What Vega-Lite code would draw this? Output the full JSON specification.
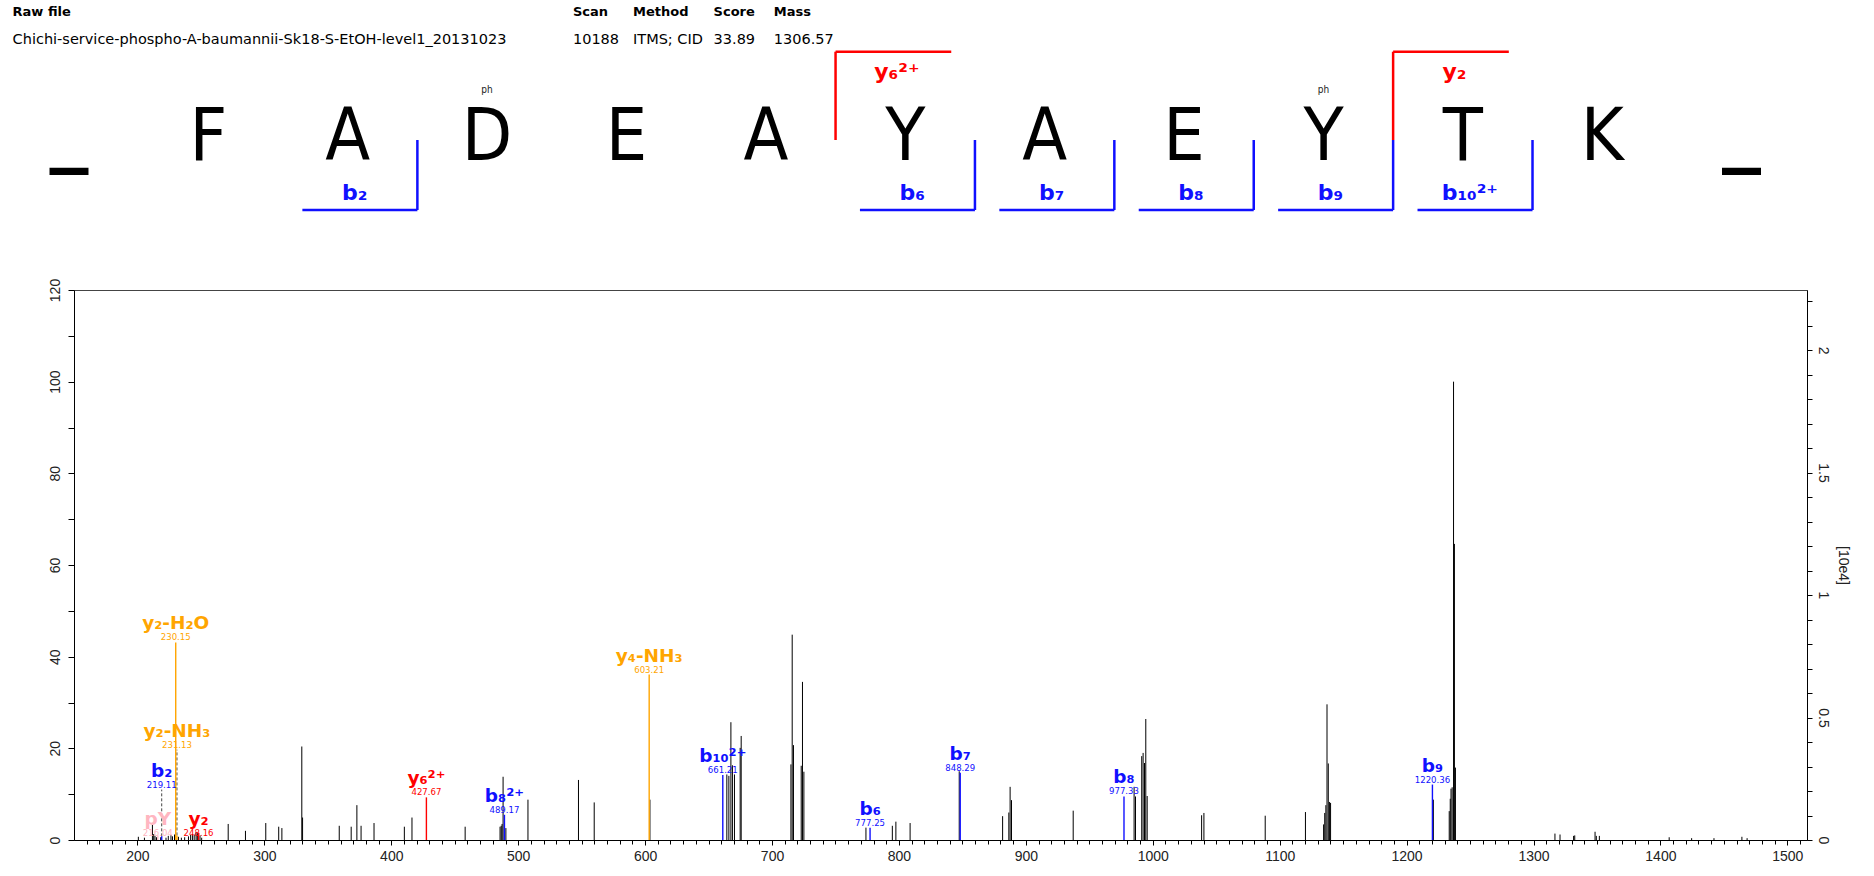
{
  "$schema": "https://vega.github.io/schema/vega-lite/v6.json",
  "width": 1733,
  "height": 550,
  "autosize": {"type": "none"},
  "padding": {"left": 74, "top": 290, "right": 67, "bottom": 36},
  "background": "white",
  "config": {"view": {"stroke": "#444", "strokeWidth": 1}, "font": "Liberation Sans", "axis": {"labelOverlap": false}},
  "datasets": {
    "peaks": [
      {"mz": 200.7, "rel": 0.7}, {"mz": 205.5, "rel": 0.5}, {"mz": 211.8, "rel": 3.3}, {"mz": 212.8, "rel": 1.3},
      {"mz": 213.8, "rel": 0.9}, {"mz": 215.0, "rel": 0.6}, {"mz": 218.3, "rel": 0.6}, {"mz": 222.5, "rel": 0.5},
      {"mz": 224.3, "rel": 0.9}, {"mz": 226.4, "rel": 1.1}, {"mz": 227.6, "rel": 0.8}, {"mz": 229.2, "rel": 1.2},
      {"mz": 232.3, "rel": 0.7}, {"mz": 234.6, "rel": 0.5}, {"mz": 237.2, "rel": 0.6}, {"mz": 240.2, "rel": 0.8},
      {"mz": 241.9, "rel": 1.1}, {"mz": 243.3, "rel": 1.3}, {"mz": 244.7, "rel": 1.2}, {"mz": 246.2, "rel": 1.7},
      {"mz": 247.2, "rel": 1.5}, {"mz": 249.3, "rel": 1.0}, {"mz": 250.6, "rel": 0.5},
      {"mz": 271.5, "rel": 3.5}, {"mz": 285.1, "rel": 2.0}, {"mz": 301.1, "rel": 3.7}, {"mz": 311.3, "rel": 2.9},
      {"mz": 313.8, "rel": 2.6}, {"mz": 329.5, "rel": 20.4}, {"mz": 330.1, "rel": 4.9}, {"mz": 359.0, "rel": 3.1},
      {"mz": 368.4, "rel": 2.9}, {"mz": 372.9, "rel": 7.6}, {"mz": 376.2, "rel": 3.1}, {"mz": 386.4, "rel": 3.7},
      {"mz": 410.3, "rel": 2.9}, {"mz": 416.3, "rel": 4.9}, {"mz": 458.2, "rel": 2.9}, {"mz": 485.7, "rel": 2.9},
      {"mz": 486.6, "rel": 3.1}, {"mz": 487.3, "rel": 3.5}, {"mz": 488.1, "rel": 13.8}, {"mz": 490.3, "rel": 2.6},
      {"mz": 507.7, "rel": 8.8}, {"mz": 547.5, "rel": 13.1}, {"mz": 559.9, "rel": 8.2}, {"mz": 603.8, "rel": 8.8},
      {"mz": 664.4, "rel": 14.3}, {"mz": 666.0, "rel": 14.0}, {"mz": 667.6, "rel": 25.7}, {"mz": 668.8, "rel": 16.3},
      {"mz": 670.4, "rel": 14.3}, {"mz": 674.9, "rel": 20.1}, {"mz": 675.7, "rel": 22.7},
      {"mz": 714.9, "rel": 16.5}, {"mz": 715.9, "rel": 44.8}, {"mz": 716.9, "rel": 20.7},
      {"mz": 723.0, "rel": 16.2}, {"mz": 724.0, "rel": 34.5}, {"mz": 725.1, "rel": 14.9},
      {"mz": 774.0, "rel": 2.7}, {"mz": 794.8, "rel": 3.1}, {"mz": 797.6, "rel": 4.0}, {"mz": 808.8, "rel": 3.7},
      {"mz": 847.5, "rel": 15.0}, {"mz": 881.7, "rel": 5.2}, {"mz": 886.6, "rel": 6.0}, {"mz": 887.6, "rel": 11.6},
      {"mz": 888.7, "rel": 8.7}, {"mz": 937.3, "rel": 6.4}, {"mz": 985.3, "rel": 11.6}, {"mz": 986.4, "rel": 9.5},
      {"mz": 991.3, "rel": 18.3}, {"mz": 992.4, "rel": 19.0}, {"mz": 993.5, "rel": 16.8}, {"mz": 994.5, "rel": 26.4},
      {"mz": 995.6, "rel": 9.6}, {"mz": 1038.5, "rel": 5.4}, {"mz": 1040.3, "rel": 5.9}, {"mz": 1088.6, "rel": 5.3},
      {"mz": 1120.3, "rel": 6.1}, {"mz": 1134.6, "rel": 3.4}, {"mz": 1135.5, "rel": 5.9}, {"mz": 1136.4, "rel": 7.6},
      {"mz": 1137.3, "rel": 29.6}, {"mz": 1138.3, "rel": 16.7}, {"mz": 1139.2, "rel": 8.3}, {"mz": 1140.1, "rel": 8.1},
      {"mz": 1221.1, "rel": 8.8}, {"mz": 1233.6, "rel": 6.3}, {"mz": 1234.4, "rel": 9.0}, {"mz": 1235.0, "rel": 11.2},
      {"mz": 1235.9, "rel": 11.5}, {"mz": 1237.0, "rel": 100}, {"mz": 1237.7, "rel": 64.6}, {"mz": 1238.5, "rel": 15.8},
      {"mz": 1316.9, "rel": 1.4}, {"mz": 1320.9, "rel": 1.2}, {"mz": 1331.6, "rel": 0.9}, {"mz": 1332.5, "rel": 1.0},
      {"mz": 1348.5, "rel": 1.8}, {"mz": 1349.5, "rel": 0.9}, {"mz": 1351.9, "rel": 0.9}, {"mz": 1406.9, "rel": 0.6},
      {"mz": 1424.6, "rel": 0.4}, {"mz": 1442.2, "rel": 0.4}, {"mz": 1464.2, "rel": 0.7}, {"mz": 1468.3, "rel": 0.4}
    ],
    "annotations": [
      {"ion": "pY", "label": "216.04", "mz": 216.04, "rel": 1.0, "lab": 0.4, "series": "imm"},
      {"ion": "b₂", "label": "219.11", "mz": 219.11, "rel": 0.8, "lab": 11.0, "series": "b"},
      {"ion": "y₂-H₂O", "label": "230.15", "mz": 230.15, "rel": 43.1, "lab": 43.1, "series": "loss"},
      {"ion": "y₂-NH₃", "label": "231.13", "mz": 231.13, "rel": 1.0, "lab": 19.7, "series": "loss"},
      {"ion": "y₂", "label": "248.16", "mz": 248.16, "rel": 1.6, "lab": 0.4, "series": "y"},
      {"ion": "y₆²⁺", "label": "427.67", "mz": 427.67, "rel": 9.3, "lab": 9.3, "series": "y"},
      {"ion": "b₈²⁺", "label": "489.17", "mz": 489.17, "rel": 5.5, "lab": 5.5, "series": "b"},
      {"ion": "y₄-NH₃", "label": "603.21", "mz": 603.21, "rel": 36.1, "lab": 36.1, "series": "loss"},
      {"ion": "b₁₀²⁺", "label": "661.21", "mz": 661.21, "rel": 14.2, "lab": 14.2, "series": "b"},
      {"ion": "b₆", "label": "777.25", "mz": 777.25, "rel": 2.7, "lab": 2.7, "series": "b"},
      {"ion": "b₇", "label": "848.29", "mz": 848.29, "rel": 14.7, "lab": 14.7, "series": "b"},
      {"ion": "b₈", "label": "977.33", "mz": 977.33, "rel": 9.5, "lab": 9.5, "series": "b"},
      {"ion": "b₉", "label": "1220.36", "mz": 1220.36, "rel": 12.1, "lab": 12.1, "series": "b"}
    ],
    "residues": [
      {"pos": 0, "aa": "_", "mod": ""}, {"pos": 1, "aa": "F", "mod": ""}, {"pos": 2, "aa": "A", "mod": ""},
      {"pos": 3, "aa": "D", "mod": "ph"}, {"pos": 4, "aa": "E", "mod": ""}, {"pos": 5, "aa": "A", "mod": ""},
      {"pos": 6, "aa": "Y", "mod": ""}, {"pos": 7, "aa": "A", "mod": ""}, {"pos": 8, "aa": "E", "mod": ""},
      {"pos": 9, "aa": "Y", "mod": "ph"}, {"pos": 10, "aa": "T", "mod": ""}, {"pos": 11, "aa": "K", "mod": ""},
      {"pos": 12, "aa": "_", "mod": ""}
    ],
    "fragments": [
      {"ion": "b₂", "series": "b", "n": 2}, {"ion": "b₆", "series": "b", "n": 6}, {"ion": "b₇", "series": "b", "n": 7},
      {"ion": "b₈", "series": "b", "n": 8}, {"ion": "b₉", "series": "b", "n": 9}, {"ion": "b₁₀²⁺", "series": "b", "n": 10},
      {"ion": "y₆²⁺", "series": "y", "n": 6}, {"ion": "y₂", "series": "y", "n": 2}
    ],
    "meta": [
      {"key": "Raw file", "value": "Chichi-service-phospho-A-baumannii-Sk18-S-EtOH-level1_20131023"},
      {"key": "Scan", "value": "10188"},
      {"key": "Method", "value": "ITMS; CID"},
      {"key": "Score", "value": "33.89"},
      {"key": "Mass", "value": "1306.57"}
    ]
  },
  "resolve": {"scale": {"x": "independent", "y": "independent", "color": "independent"}},
  "layer": [
    {
      "layer": [
        {
          "data": {"name": "peaks"},
          "mark": {"type": "rule", "color": "#000000", "strokeWidth": 1},
          "encoding": {
            "x": {"field": "mz", "type": "quantitative",
              "scale": {"domain": [150, 1515.5], "nice": false, "zero": false},
              "axis": {"orient": "bottom", "title": null, "grid": false,
                "values": [200,300,400,500,600,700,800,900,1000,1100,1200,1300,1400,1500],
                "format": "d", "labelOverlap": false, "labelFlush": false, "labelBound": false,
                "tickSize": 5, "tickColor": "#000", "domainColor": "#000",
                "labelFont": "Liberation Sans", "labelFontSize": 14, "labelColor": "#222", "labelPadding": 4}},
            "y": {"field": "rel", "type": "quantitative",
              "scale": {"domain": [0, 120], "nice": false, "zero": true},
              "axis": {"orient": "left", "title": null, "grid": false,
                "values": [0,5,10,15,20,25,30,35,40,45,50,55,60,65,70,75,80,85,90,95,100,105,110,115,120],
                "format": "d", "labelExpr": "datum.value % 20 === 0 ? datum.label : ''",
                "labelAngle": 270, "labelAlign": "center", "labelBaseline": "bottom",
                "labelOverlap": false, "labelFlush": false, "labelBound": false,
                "tickSize": 6, "tickColor": "#000", "domainColor": "#000",
                "labelFont": "Liberation Sans", "labelFontSize": 14, "labelColor": "#222", "labelPadding": 6}},
            "y2": {"datum": 0}
          }
        },
        {
          "data": {"name": "annotations"},
          "transform": [{"filter": "datum.lab > datum.rel + 0.5"}],
          "mark": {"type": "rule", "color": "#444", "strokeDash": [3, 2], "strokeWidth": 1},
          "encoding": {
            "x": {"field": "mz", "type": "quantitative"},
            "y": {"field": "rel", "type": "quantitative"},
            "y2": {"field": "lab"}
          }
        },
        {
          "data": {"name": "annotations"},
          "mark": {"type": "rule", "strokeWidth": 1.4},
          "encoding": {
            "x": {"field": "mz", "type": "quantitative"},
            "y": {"field": "rel", "type": "quantitative"},
            "y2": {"datum": 0},
            "color": {"field": "series", "type": "nominal",
              "scale": {"domain": ["b", "y", "loss", "imm"], "range": ["#1010ff", "#ff0000", "#ffa500", "#ffb6c1"]},
              "legend": null}
          }
        },
        {
          "data": {"name": "annotations"},
          "mark": {"type": "text", "font": "DejaVu Sans", "fontWeight": "bold", "fontSize": 18.5, "baseline": "middle", "align": "center", "dy": -19},
          "encoding": {
            "x": {"field": "mz", "type": "quantitative"},
            "y": {"field": "lab", "type": "quantitative"},
            "text": {"field": "ion"},
            "color": {"field": "series", "type": "nominal"}
          }
        },
        {
          "data": {"name": "annotations"},
          "mark": {"type": "text", "font": "DejaVu Sans Condensed", "fontSize": 9.5, "baseline": "middle", "align": "center", "dy": -5},
          "encoding": {
            "x": {"field": "mz", "type": "quantitative"},
            "y": {"field": "lab", "type": "quantitative"},
            "text": {"field": "label"},
            "color": {"field": "series", "type": "nominal"}
          }
        }
      ]
    },
    {
      "data": {"values": [{"k": 1}]},
      "mark": {"type": "point", "opacity": 0},
      "encoding": {
        "x": {"datum": 150, "type": "quantitative", "scale": {"domain": [150, 1515.5], "nice": false, "zero": false},
          "axis": {"orient": "bottom", "title": null, "grid": false, "labels": false, "domain": false,
            "values": [160,170,180,190,210,220,230,240,250,260,270,280,290,310,320,330,340,350,360,370,380,390,410,420,430,440,450,460,470,480,490,510,520,530,540,550,560,570,580,590,610,620,630,640,650,660,670,680,690,710,720,730,740,750,760,770,780,790,810,820,830,840,850,860,870,880,890,910,920,930,940,950,960,970,980,990,1010,1020,1030,1040,1050,1060,1070,1080,1090,1110,1120,1130,1140,1150,1160,1170,1180,1190,1210,1220,1230,1240,1250,1260,1270,1280,1290,1310,1320,1330,1340,1350,1360,1370,1380,1390,1410,1420,1430,1440,1450,1460,1470,1480,1490,1510],
            "tickSize": 4, "tickColor": "#000"}},
        "y": {"datum": 0, "type": "quantitative",
          "scale": {"domain": [0, 2.245], "nice": false, "zero": true},
          "axis": {"orient": "right", "title": "[10e4]", "grid": false,
            "values": [0,0.1,0.2,0.3,0.4,0.5,0.6,0.7,0.8,0.9,1,1.1,1.2,1.3,1.4,1.5,1.6,1.7,1.8,1.9,2,2.1,2.2],
            "format": "~g", "labelExpr": "abs(datum.value * 2 - round(datum.value * 2)) < 0.001 ? datum.label : ''",
            "labelAngle": 90, "labelAlign": "center", "labelBaseline": "bottom",
            "labelOverlap": false, "labelFlush": false, "labelBound": false,
            "tickSize": 5, "tickColor": "#000", "domainColor": "#000",
            "labelFont": "Liberation Sans", "labelFontSize": 14, "labelColor": "#222", "labelPadding": 3,
            "titleFont": "Liberation Sans", "titleFontSize": 14, "titleFontWeight": "normal", "titleColor": "#222",
            "titleAngle": 90, "titlePadding": 6}}
      }
    },
    {
      "layer": [
        {
          "data": {"name": "residues"},
          "transform": [{"filter": "datum.aa !== '_'"}],
          "mark": {"type": "text", "font": "DejaVu Sans Condensed", "fontSize": 73, "baseline": "alphabetic", "align": "center", "color": "#000"},
          "encoding": {
            "x": {"field": "pos", "type": "quantitative", "scale": {"domain": [0, 12], "range": [-5.1, 1667.6], "nice": false, "zero": false}, "axis": null},
            "y": {"datum": 55.17, "type": "quantitative", "scale": {"domain": [0, 100], "range": [-290, 0], "nice": false, "zero": false}, "axis": null},
            "text": {"field": "aa"}
          }
        },
        {
          "data": {"name": "residues"},
          "transform": [{"filter": "datum.aa === '_'"}],
          "mark": {"type": "text", "font": "DejaVu Sans", "fontWeight": "bold", "fontSize": 78, "baseline": "alphabetic", "align": "center", "color": "#000", "dy": -4},
          "encoding": {
            "x": {"field": "pos", "type": "quantitative"},
            "y": {"datum": 55.17, "type": "quantitative"},
            "text": {"field": "aa"}
          }
        },
        {
          "data": {"name": "residues"},
          "transform": [{"filter": "datum.mod === 'ph'"}],
          "mark": {"type": "text", "font": "DejaVu Sans Condensed", "fontSize": 10, "baseline": "middle", "align": "center", "color": "#222"},
          "encoding": {
            "x": {"field": "pos", "type": "quantitative"},
            "y": {"datum": 31.0, "type": "quantitative"},
            "text": {"field": "mod"}
          }
        },
        {
          "data": {"name": "fragments"},
          "transform": [
            {"filter": "datum.series === 'b'"},
            {"calculate": "datum.n + 0.5", "as": "site"},
            {"calculate": "datum.site - 0.825", "as": "end"},
            {"calculate": "datum.site - 0.45", "as": "lx"}
          ],
          "layer": [
            {"mark": {"type": "rule", "color": "#1010ff", "strokeWidth": 2.5},
             "encoding": {"x": {"field": "site", "type": "quantitative"}, "y": {"datum": 48.28, "type": "quantitative"}, "y2": {"datum": 72.41}}},
            {"mark": {"type": "rule", "color": "#1010ff", "strokeWidth": 2.5},
             "encoding": {"x": {"field": "end", "type": "quantitative"}, "x2": {"field": "site"}, "y": {"datum": 72.41, "type": "quantitative"}}},
            {"mark": {"type": "text", "font": "DejaVu Sans", "fontWeight": "bold", "fontSize": 22, "baseline": "middle", "align": "center", "color": "#1010ff"},
             "encoding": {"x": {"field": "lx", "type": "quantitative"}, "y": {"datum": 66.55, "type": "quantitative"}, "text": {"field": "ion"}}}
          ]
        },
        {
          "data": {"name": "fragments"},
          "transform": [
            {"filter": "datum.series === 'y'"},
            {"calculate": "11.5 - datum.n", "as": "site"},
            {"calculate": "datum.site + 0.83", "as": "end"},
            {"calculate": "datum.site + 0.44", "as": "lx"}
          ],
          "layer": [
            {"mark": {"type": "rule", "color": "#ff0000", "strokeWidth": 2.5},
             "encoding": {"x": {"field": "site", "type": "quantitative"}, "y": {"datum": 17.83, "type": "quantitative"}, "y2": {"datum": 48.28}}},
            {"mark": {"type": "rule", "color": "#ff0000", "strokeWidth": 2.5},
             "encoding": {"x": {"field": "site", "type": "quantitative"}, "x2": {"field": "end"}, "y": {"datum": 17.83, "type": "quantitative"}}},
            {"mark": {"type": "text", "font": "DejaVu Sans", "fontWeight": "bold", "fontSize": 22, "baseline": "middle", "align": "center", "color": "#ff0000"},
             "encoding": {"x": {"field": "lx", "type": "quantitative"}, "y": {"datum": 24.83, "type": "quantitative"}, "text": {"field": "ion"}}}
          ]
        },
        {
          "data": {"name": "meta"},
          "transform": [{"filter": "datum.key === 'Raw file'"}],
          "encoding": {"x": {"datum": -0.404, "type": "quantitative"}},
          "layer": [
            {"mark": {"type": "text", "font": "DejaVu Sans", "fontWeight": "bold", "fontSize": 13, "align": "left", "baseline": "middle", "color": "#000"},
             "encoding": {"y": {"datum": 4.3, "type": "quantitative"}, "text": {"field": "key"}}},
            {"mark": {"type": "text", "font": "DejaVu Sans", "fontSize": 14.5, "align": "left", "baseline": "middle", "color": "#000"},
             "encoding": {"y": {"datum": 13.79, "type": "quantitative"}, "text": {"field": "value"}}}
          ]
        },
        {
          "data": {"name": "meta"},
          "transform": [{"filter": "datum.key === 'Scan'"}],
          "encoding": {"x": {"datum": 3.616, "type": "quantitative"}},
          "layer": [
            {"mark": {"type": "text", "font": "DejaVu Sans", "fontWeight": "bold", "fontSize": 13, "align": "left", "baseline": "middle", "color": "#000"},
             "encoding": {"y": {"datum": 4.3, "type": "quantitative"}, "text": {"field": "key"}}},
            {"mark": {"type": "text", "font": "DejaVu Sans", "fontSize": 14.5, "align": "left", "baseline": "middle", "color": "#000"},
             "encoding": {"y": {"datum": 13.79, "type": "quantitative"}, "text": {"field": "value"}}}
          ]
        },
        {
          "data": {"name": "meta"},
          "transform": [{"filter": "datum.key === 'Method'"}],
          "encoding": {"x": {"datum": 4.047, "type": "quantitative"}},
          "layer": [
            {"mark": {"type": "text", "font": "DejaVu Sans", "fontWeight": "bold", "fontSize": 13, "align": "left", "baseline": "middle", "color": "#000"},
             "encoding": {"y": {"datum": 4.3, "type": "quantitative"}, "text": {"field": "key"}}},
            {"mark": {"type": "text", "font": "DejaVu Sans", "fontSize": 14.5, "align": "left", "baseline": "middle", "color": "#000"},
             "encoding": {"y": {"datum": 13.79, "type": "quantitative"}, "text": {"field": "value"}}}
          ]
        },
        {
          "data": {"name": "meta"},
          "transform": [{"filter": "datum.key === 'Score'"}],
          "encoding": {"x": {"datum": 4.625, "type": "quantitative"}},
          "layer": [
            {"mark": {"type": "text", "font": "DejaVu Sans", "fontWeight": "bold", "fontSize": 13, "align": "left", "baseline": "middle", "color": "#000"},
             "encoding": {"y": {"datum": 4.3, "type": "quantitative"}, "text": {"field": "key"}}},
            {"mark": {"type": "text", "font": "DejaVu Sans", "fontSize": 14.5, "align": "left", "baseline": "middle", "color": "#000"},
             "encoding": {"y": {"datum": 13.79, "type": "quantitative"}, "text": {"field": "value"}}}
          ]
        },
        {
          "data": {"name": "meta"},
          "transform": [{"filter": "datum.key === 'Mass'"}],
          "encoding": {"x": {"datum": 5.057, "type": "quantitative"}},
          "layer": [
            {"mark": {"type": "text", "font": "DejaVu Sans", "fontWeight": "bold", "fontSize": 13, "align": "left", "baseline": "middle", "color": "#000"},
             "encoding": {"y": {"datum": 4.3, "type": "quantitative"}, "text": {"field": "key"}}},
            {"mark": {"type": "text", "font": "DejaVu Sans", "fontSize": 14.5, "align": "left", "baseline": "middle", "color": "#000"},
             "encoding": {"y": {"datum": 13.79, "type": "quantitative"}, "text": {"field": "value"}}}
          ]
        }
      ]
    }
  ]
}
